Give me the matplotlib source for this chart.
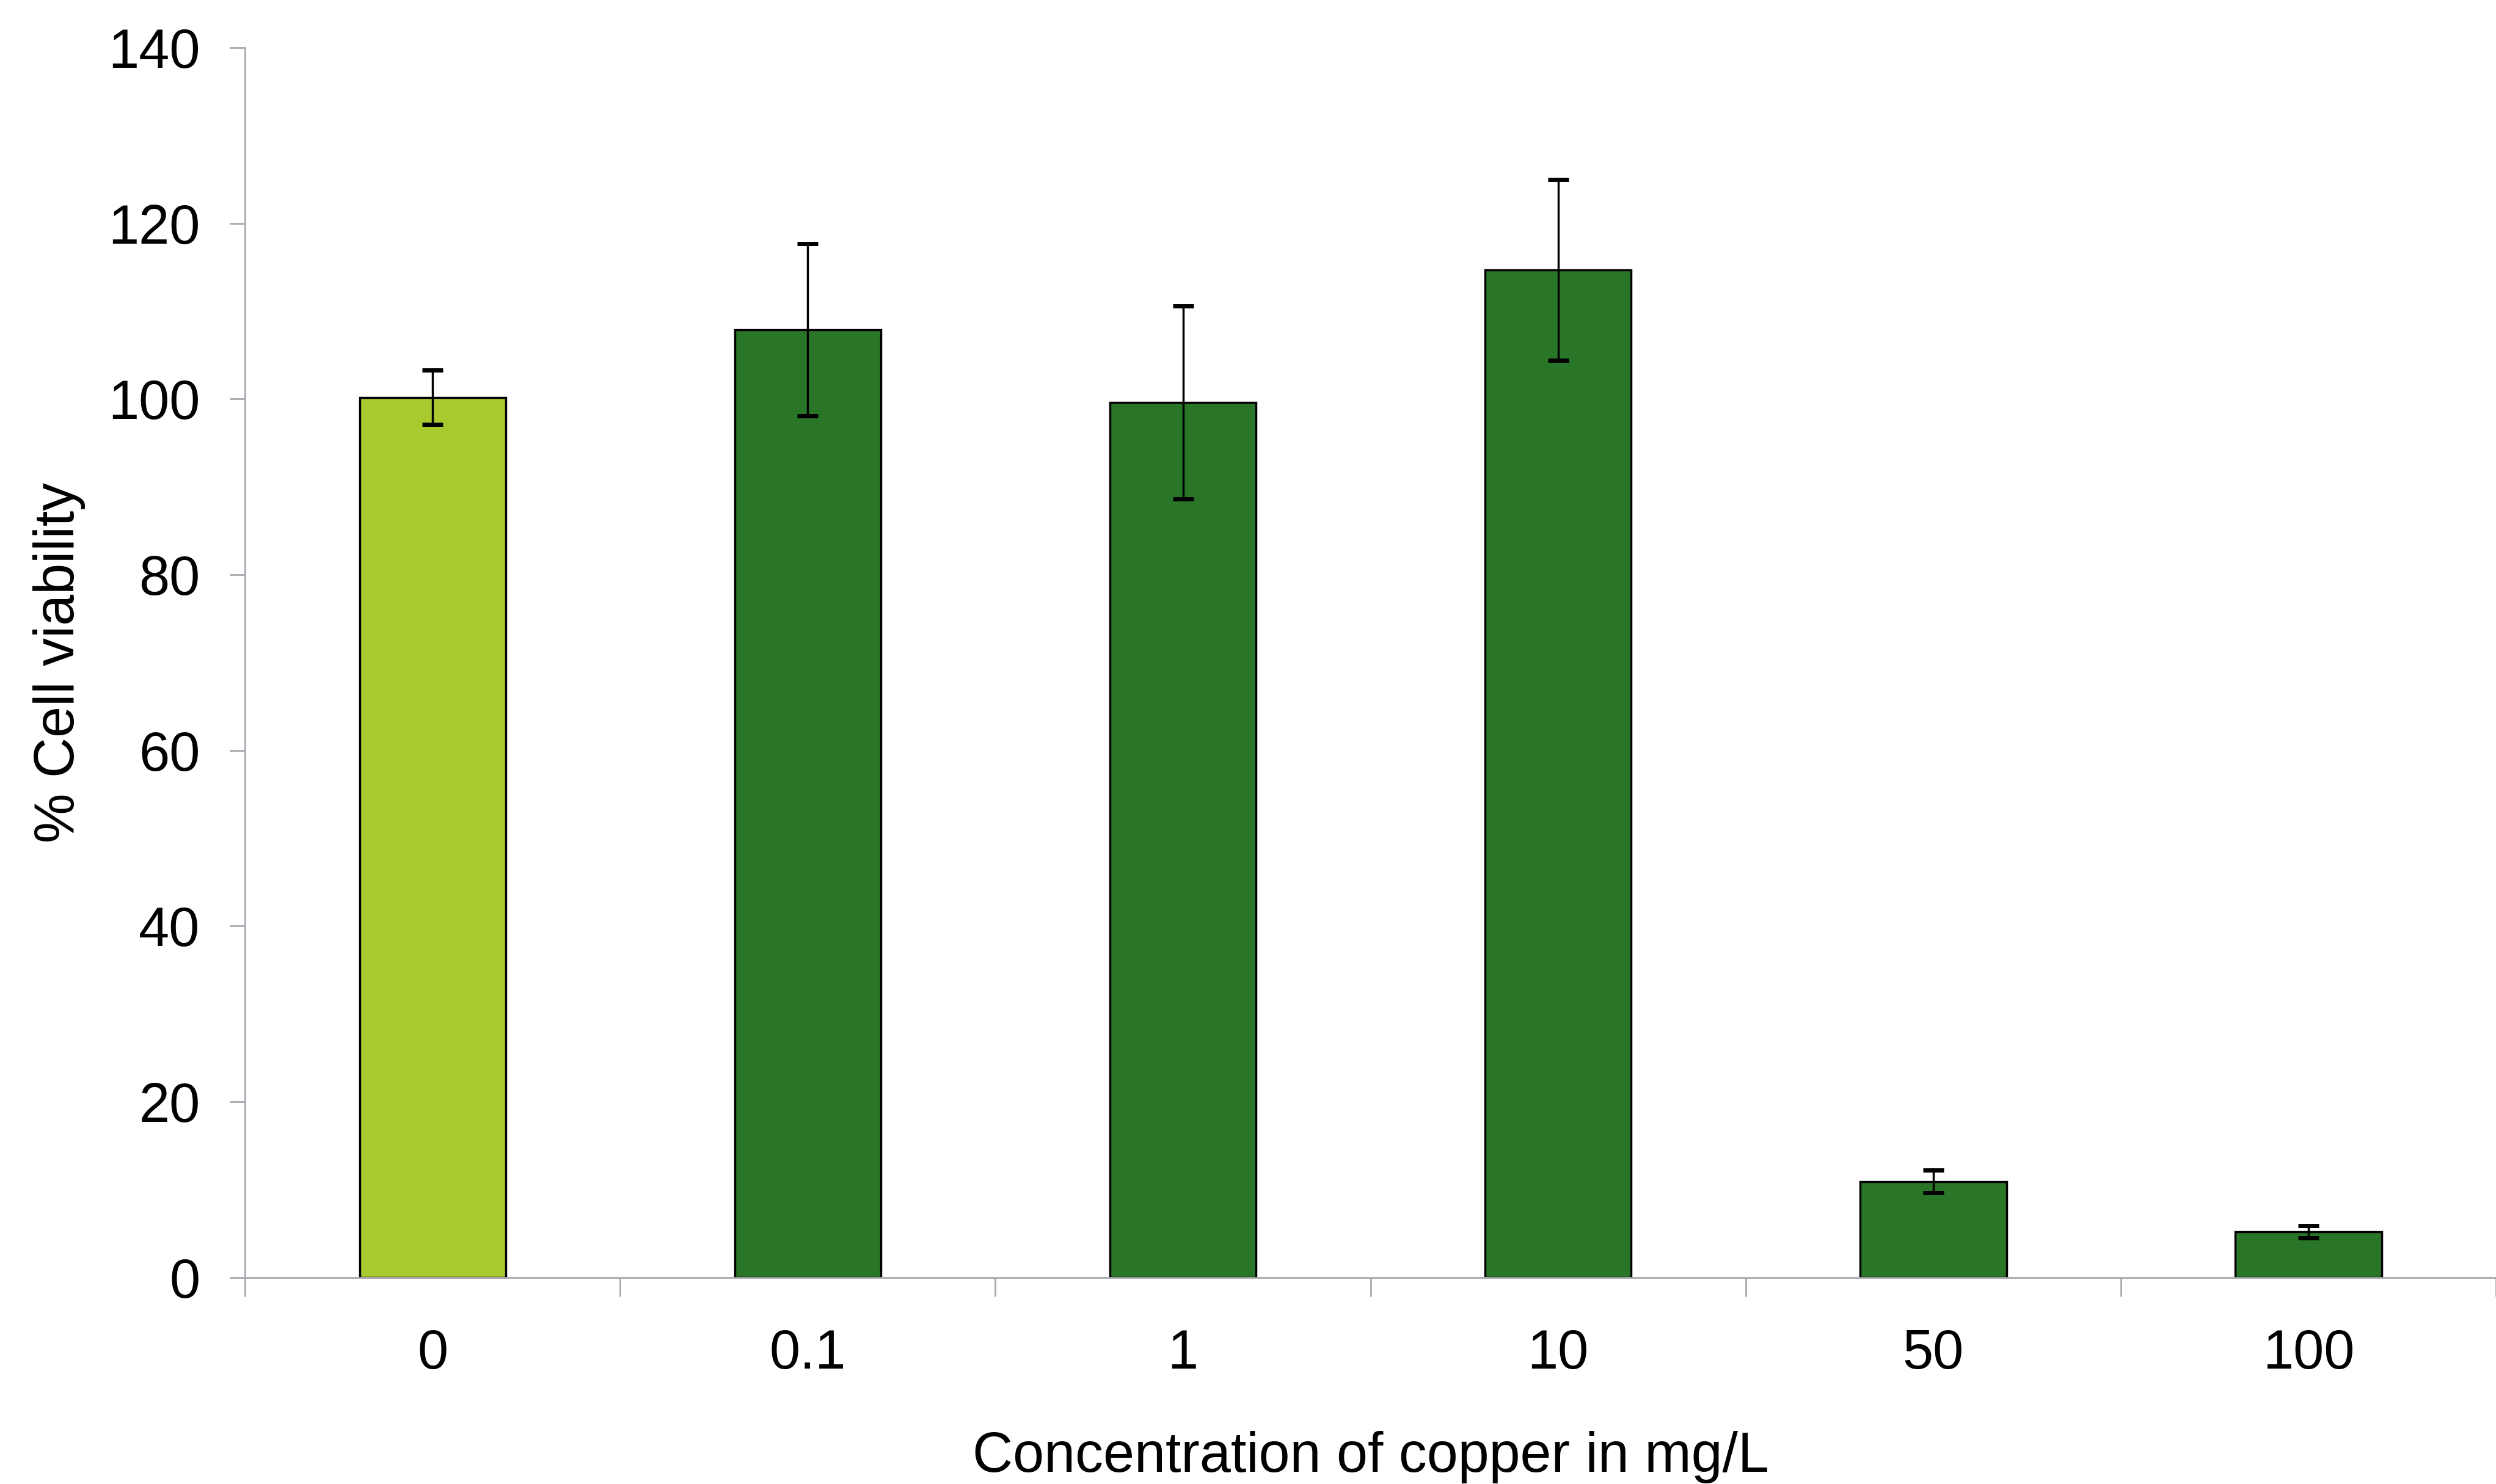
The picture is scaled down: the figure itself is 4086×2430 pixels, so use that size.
import numpy as np
import matplotlib
matplotlib.use("Agg")
import matplotlib.pyplot as plt

plt.rcParams['font.family'] = ['Liberation Sans', 'DejaVu Sans']

# copper dose groups and MTT viability (mean, SD)
concentrations = ["0", "0.1", "1", "10", "50", "100"]
viability = [100.2, 107.9, 99.6, 114.7, 10.9, 5.2]
viability_sd = [3.1, 9.8, 11.0, 10.3, 1.3, 0.7]
bar_colours = ["#a8ca2e", "#2a7628", "#2a7628", "#2a7628", "#2a7628", "#2a7628"]

axis_grey = "#a8a8b0"

fig = plt.figure(figsize=(40.86, 24.3), dpi=100)
ax = fig.add_axes([0.0982, 0.1393, 0.9018, 0.8285])

x = np.arange(len(concentrations))
ax.bar(x, viability, width=0.39, color=bar_colours, edgecolor="black", linewidth=2.5, zorder=2)
ax.errorbar(x, viability, yerr=viability_sd, fmt="none", ecolor="black",
            elinewidth=2.5, capsize=12, capthick=5, zorder=3)

ax.set_xlim(-0.5, len(concentrations) - 0.5)
ax.set_ylim(0, 140)
ax.set_yticks(np.arange(0, 141, 20))

# category labels centred on bars, tick marks on the category boundaries
ax.set_xticks(x)
ax.set_xticklabels(concentrations)
ax.set_xticks(np.arange(-0.5, len(concentrations)), minor=True)
ax.tick_params(axis="x", which="major", length=0, pad=60, labelsize=65)
ax.tick_params(axis="x", which="minor", length=22, width=2, color=axis_grey, direction="out")
ax.tick_params(axis="y", length=18, width=2, color=axis_grey, pad=35, labelsize=65)

for side in ["top", "right"]:
    ax.spines[side].set_visible(False)
for side in ["left", "bottom"]:
    ax.spines[side].set_color(axis_grey)
    ax.spines[side].set_linewidth(2)

ax.set_xlabel("Concentration of copper in mg/L", fontsize=66, labelpad=60)
ax.set_ylabel("% Cell viability", fontsize=66, labelpad=27)

fig.savefig("out.png", dpi=100, facecolor="white")
